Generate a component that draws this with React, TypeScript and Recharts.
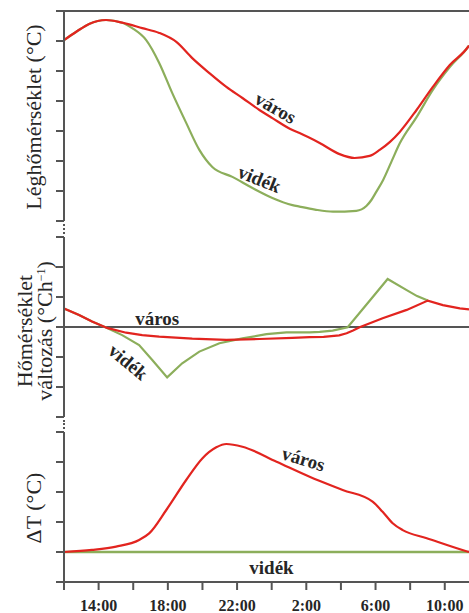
import { LineChart, Line, XAxis, YAxis, ReferenceLine, ReferenceDot } from 'recharts';

const FONT = "'Liberation Serif', 'Times New Roman', serif";
const RED = '#e2241f';
const GREEN = '#8cae5b';
const AXIS = '#555555';
const INK = '#262626';

// Idő órában: 12 = 12:00, 26 = másnap 2:00
const X_DOMAIN = [12, 35.4];
const X_TICKS = [12, 14, 16, 18, 20, 22, 24, 26, 28, 30, 32, 34];
const X_LABELED = [14, 18, 22, 26, 30, 34];

// Léghőmérséklet (relatív egységek, 0..7 osztás)
const airCityHours = [12, 12.69, 13.45, 14.43, 15.36, 16.52, 17.5, 18.49, 19.41, 20.4, 21.38, 22.31, 23.29, 24.04, 25.2, 25.61, 26.77, 27.92, 28.79, 29.66, 30.24, 30.82, 31.4, 32.37, 33.31, 34.29, 35.34, 35.4];
const airCity = [6.03, 6.3, 6.57, 6.7, 6.61, 6.43, 6.27, 5.97, 5.43, 4.93, 4.47, 4.1, 3.7, 3.43, 3.03, 2.93, 2.6, 2.23, 2.1, 2.17, 2.37, 2.63, 2.97, 3.7, 4.47, 5.2, 5.8, 5.85];
const airRuralHours = [12, 12.69, 13.45, 14.43, 15.36, 15.94, 16.75, 17.5, 18.25, 19.06, 19.82, 20.57, 21.73, 22.89, 24.04, 25.2, 25.61, 26.5, 27.54, 28.89, 29.47, 29.76, 30.05, 30.44, 30.92, 31.4, 32.38, 33.31, 34.29, 35.34, 35.4];
const airRural = [6.03, 6.3, 6.57, 6.7, 6.61, 6.43, 6.03, 5.27, 4.27, 3.27, 2.37, 1.8, 1.47, 1.1, 0.77, 0.53, 0.48, 0.38, 0.31, 0.34, 0.5, 0.7, 0.98, 1.37, 1.98, 2.59, 3.47, 4.37, 5.13, 5.8, 5.85];

// Hőmérséklet-változás (°C/h, -3..3 osztás)
const rateCityHours = [12, 12.87, 13.62, 14.49, 15.59, 16.52, 17.5, 19.41, 21.38, 23.29, 25.2, 26.19, 27.0, 27.9, 28.33, 28.7, 29.08, 30.41, 31.8, 33.02, 33.89, 34.87, 35.4];
const rateCity = [0.62, 0.4, 0.18, -0.03, -0.19, -0.27, -0.32, -0.39, -0.43, -0.4, -0.36, -0.34, -0.33, -0.28, -0.21, -0.12, -0.01, 0.29, 0.57, 0.88, 0.73, 0.62, 0.59];
const rateRuralHours = [12, 12.87, 13.62, 14.49, 15.36, 16.34, 17.1, 17.96, 18.83, 19.82, 20.98, 22.31, 23.7, 24.85, 26.19, 26.77, 27.52, 28.39, 29.54, 30.7, 31.8, 32.4, 33.02];
const rateRural = [0.62, 0.4, 0.18, -0.03, -0.27, -0.6, -1.1, -1.68, -1.21, -0.82, -0.54, -0.38, -0.24, -0.18, -0.18, -0.16, -0.12, -0.01, 0.79, 1.6, 1.23, 1.03, 0.88];

// ΔT város–vidék (°C, -1..4 osztás)
const deltaCityHours = [12, 13.62, 15.01, 16.34, 16.92, 17.91, 19.06, 19.99, 20.8, 21.38, 22.31, 24.28, 26.19, 28.1, 29.83, 30.41, 30.99, 31.57, 32.96, 35.34, 35.4];
const deltaCity = [0, 0.07, 0.18, 0.4, 0.62, 1.4, 2.4, 3.12, 3.49, 3.6, 3.51, 3.01, 2.51, 2.07, 1.68, 1.34, 0.96, 0.73, 0.46, 0.01, 0];
const deltaRuralHours = [12, 35.4];
const deltaRural = [0, 0];

const toPoints = (hours: number[], values: number[]) => hours.map((h, i) => ({ h, v: values[i] }));

const axisStroke = { stroke: AXIS, strokeWidth: 2 };
const noTickText = () => <g />;

function AxisTitle({ lines, xs, y }: { lines: React.ReactNode[]; xs: number[]; y: number }) {
  return (
    <g>
      {lines.map((t, i) => (
        <text
          key={i}
          x={xs[i]}
          y={y}
          transform={`rotate(-90, ${xs[i]}, ${y})`}
          textAnchor="middle"
          fontFamily={FONT}
          fontSize={22}
          fill={INK}
        >
          {t}
        </text>
      ))}
    </g>
  );
}

function SeriesLabel({ cx, cy, text, angle = 0 }: { cx?: number; cy?: number; text: string; angle?: number }) {
  if (cx == null || cy == null) return null;
  return (
    <text
      x={cx}
      y={cy}
      transform={`rotate(${angle}, ${cx}, ${cy})`}
      textAnchor="middle"
      dominantBaseline="central"
      fontFamily={FONT}
      fontSize={19}
      fontWeight={700}
      fill={INK}
    >
      {text}
    </text>
  );
}

function Dotted({ top, height }: { top: number; height: number }) {
  return (
    <div
      style={{
        position: 'absolute',
        left: 63,
        top,
        height,
        borderLeft: `2px dotted ${AXIS}`,
      }}
    />
  );
}

export default function App() {
  return (
    <div style={{ position: 'absolute', left: 0, top: 0, width: 469, height: 613, background: '#fff' }}>
      {/* Léghőmérséklet */}
      <div style={{ position: 'absolute', left: 0, top: 0 }}>
        <LineChart width={469} height={229} margin={{ top: 11, right: 0, bottom: 8, left: 0 }}>
          <XAxis hide type="number" dataKey="h" domain={X_DOMAIN} />
          <YAxis
            type="number"
            domain={[0, 7]}
            ticks={[0, 1, 2, 3, 4, 5, 6, 7]}
            interval={0}
            width={64}
            tick={noTickText}
            tickSize={8}
            axisLine={axisStroke}
            tickLine={axisStroke}
            label={{ content: () => <AxisTitle lines={['Léghőmérséklet (°C)']} xs={[41]} y={117} /> }}
          />
          <ReferenceLine y={7} stroke={AXIS} strokeWidth={2} />
          <Line data={toPoints(airRuralHours, airRural)} dataKey="v" type="monotone" stroke={GREEN} strokeWidth={2.2} dot={false} isAnimationActive={false} />
          <Line data={toPoints(airCityHours, airCity)} dataKey="v" type="monotone" stroke={RED} strokeWidth={2.2} dot={false} isAnimationActive={false} />
          <ReferenceDot x={24.22} y={3.77} shape={(p: any) => <SeriesLabel {...p} text="város" angle={30} />} />
          <ReferenceDot x={23.29} y={1.4} shape={(p: any) => <SeriesLabel {...p} text="vidék" angle={22} />} />
        </LineChart>
      </div>

      {/* Hőmérséklet-változás */}
      <div style={{ position: 'absolute', left: 0, top: 229 }}>
        <LineChart width={469} height={196} margin={{ top: 8, right: 0, bottom: 8, left: 0 }}>
          <XAxis hide type="number" dataKey="h" domain={X_DOMAIN} />
          <YAxis
            type="number"
            domain={[-3, 3]}
            ticks={[-3, -2, -1, 0, 1, 2, 3]}
            interval={0}
            width={64}
            tick={noTickText}
            tickSize={8}
            axisLine={axisStroke}
            tickLine={axisStroke}
            label={{
              content: () => (
                <AxisTitle
                  lines={[
                    'Hőmérséklet',
                    <>
                      változás (°Ch
                      <tspan dy={-7} fontSize={12}>−1</tspan>
                      <tspan dy={7}>)</tspan>
                    </>,
                  ]}
                  xs={[32, 52]}
                  y={102}
                />
              ),
            }}
          />
          <ReferenceLine y={0} stroke={AXIS} strokeWidth={2} />
          <Line data={toPoints(rateRuralHours, rateRural)} dataKey="v" type="linear" stroke={GREEN} strokeWidth={2.2} dot={false} isAnimationActive={false} />
          <Line data={toPoints(rateCityHours, rateCity)} dataKey="v" type="linear" stroke={RED} strokeWidth={2.2} dot={false} isAnimationActive={false} />
          <ReferenceDot x={17.39} y={0.27} shape={(p: any) => <SeriesLabel {...p} text="város" />} />
          <ReferenceDot x={15.71} y={-1.17} shape={(p: any) => <SeriesLabel {...p} text="vidék" angle={40} />} />
        </LineChart>
      </div>

      {/* ΔT */}
      <div style={{ position: 'absolute', left: 0, top: 425 }}>
        <LineChart width={469} height={188} margin={{ top: 7, right: 0, bottom: 0, left: 0 }}>
          <XAxis
            type="number"
            dataKey="h"
            domain={X_DOMAIN}
            ticks={X_TICKS}
            interval={0}
            height={31}
            tickSize={8}
            tickMargin={10}
            axisLine={axisStroke}
            tickLine={axisStroke}
            tickFormatter={(h: number) => (X_LABELED.includes(h) ? `${h % 24}:00` : '')}
            tick={{ fill: INK, fontSize: 16, fontWeight: 700, fontFamily: FONT }}
          />
          <YAxis
            type="number"
            domain={[-1, 4]}
            ticks={[-1, 0, 1, 2, 3, 4]}
            interval={0}
            width={64}
            tick={noTickText}
            tickSize={8}
            axisLine={axisStroke}
            tickLine={axisStroke}
            label={{ content: () => <AxisTitle lines={['ΔT (°C)']} xs={[41]} y={83} /> }}
          />
          <Line data={toPoints(deltaRuralHours, deltaRural)} dataKey="v" type="linear" stroke={GREEN} strokeWidth={2.4} dot={false} isAnimationActive={false} />
          <Line data={toPoints(deltaCityHours, deltaCity)} dataKey="v" type="monotone" stroke={RED} strokeWidth={2.2} dot={false} isAnimationActive={false} />
          <ReferenceDot x={25.84} y={3.1} shape={(p: any) => <SeriesLabel {...p} text="város" angle={17} />} />
          <ReferenceDot x={23.99} y={-0.53} shape={(p: any) => <SeriesLabel {...p} text="vidék" />} />
        </LineChart>
      </div>

      <Dotted top={224} height={10} />
      <Dotted top={420} height={9} />
    </div>
  );
}
